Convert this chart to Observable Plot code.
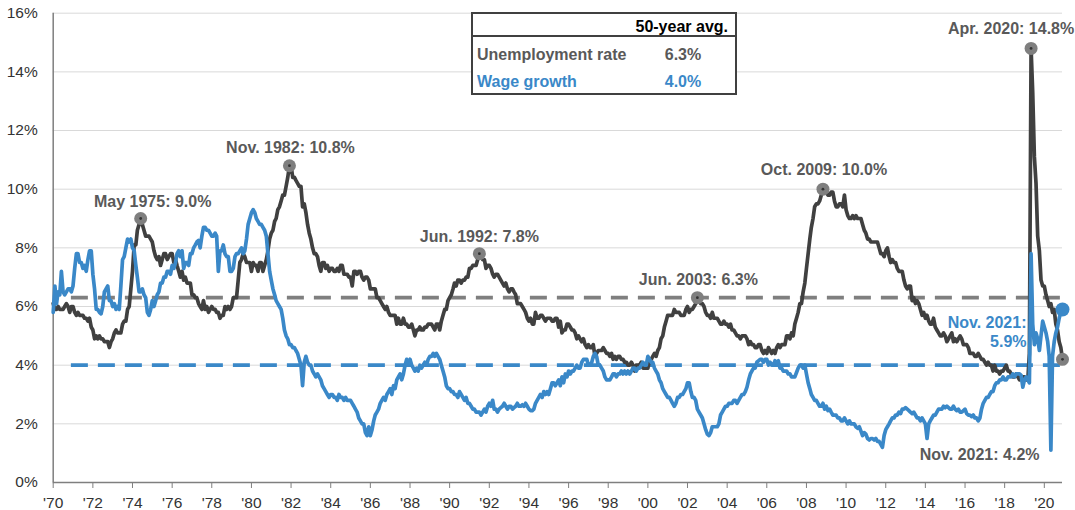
<!DOCTYPE html>
<html>
<head>
<meta charset="utf-8">
<script src="https://cdn.jsdelivr.net/npm/d3@7"></script>
<script src="https://cdn.jsdelivr.net/npm/@observablehq/plot@0.6"></script>
<style>
  html, body { margin: 0; padding: 0; background: #fff; }
  #wrap { position: relative; width: 1075px; height: 510px; font-family: "Liberation Sans", Arial, sans-serif; }
  #legend { position: absolute; left: 471px; top: 12px; width: 262px; height: 79px; border: 2px solid #404040; background: #fff; font-weight: bold; font-size: 16px; }
  #legend .t { position: absolute; line-height: 18px; white-space: nowrap; }
  #legend .sep { position: absolute; left: 0; right: 0; top: 21px; height: 2px; background: #404040; }
</style>
</head>
<body>
<div id="wrap">
  <div id="chart"></div>
  <div id="legend"></div>
</div>
<script>
// ---- Data ----
// Monthly series, first value = Dec 1970, last value = Nov 2021
const firstMonth = { year: 1970, month: 11 };

const unemployment = [
  6.1,
  5.9,5.9,6.0,5.9,5.9,5.9,6.0,6.1,6.0,5.8,6.0,6.0,        // 1971
  5.8,5.7,5.8,5.7,5.7,5.7,5.6,5.6,5.5,5.6,5.3,5.2,        // 1972
  4.9,5.0,4.9,5.0,4.9,4.9,4.8,4.8,4.8,4.6,4.8,4.9,        // 1973
  5.1,5.2,5.1,5.1,5.1,5.4,5.5,5.5,5.9,6.0,6.6,7.2,        // 1974
  8.1,8.1,8.6,8.8,9.0,8.8,8.6,8.4,8.4,8.4,8.3,8.2,        // 1975
  7.9,7.7,7.6,7.7,7.4,7.6,7.8,7.8,7.6,7.7,7.8,7.8,        // 1976
  7.5,7.6,7.4,7.2,7.0,7.2,6.9,7.0,6.8,6.8,6.8,6.4,        // 1977
  6.4,6.3,6.3,6.1,6.0,5.9,6.2,5.9,6.0,5.8,5.9,6.0,        // 1978
  5.9,5.9,5.8,5.8,5.6,5.7,5.7,6.0,5.9,6.0,5.9,6.0,        // 1979
  6.3,6.3,6.3,6.9,7.5,7.6,7.8,7.7,7.5,7.5,7.5,7.2,        // 1980
  7.5,7.4,7.4,7.2,7.5,7.5,7.2,7.4,7.6,7.9,8.3,8.5,        // 1981
  8.6,8.9,9.0,9.3,9.4,9.6,9.8,9.8,10.1,10.4,10.8,10.8,    // 1982
  10.4,10.4,10.3,10.2,10.1,10.1,9.4,9.5,9.2,8.8,8.5,8.3,  // 1983
  8.0,7.8,7.8,7.7,7.4,7.2,7.5,7.5,7.3,7.4,7.2,7.3,        // 1984
  7.3,7.2,7.2,7.3,7.2,7.4,7.4,7.1,7.1,7.1,7.0,7.0,        // 1985
  6.7,7.2,7.2,7.1,7.2,7.2,7.0,6.9,7.0,7.0,6.9,6.6,        // 1986
  6.6,6.6,6.6,6.3,6.3,6.2,6.1,6.0,5.9,6.0,5.8,5.7,        // 1987
  5.7,5.7,5.7,5.4,5.6,5.4,5.4,5.6,5.4,5.4,5.3,5.3,        // 1988
  5.4,5.2,5.0,5.2,5.2,5.3,5.2,5.2,5.3,5.3,5.4,5.4,        // 1989
  5.4,5.3,5.2,5.4,5.4,5.2,5.5,5.7,5.9,5.9,6.2,6.3,        // 1990
  6.4,6.6,6.8,6.7,6.9,6.9,6.8,6.9,6.9,7.0,7.0,7.3,        // 1991
  7.3,7.4,7.4,7.4,7.6,7.8,7.7,7.6,7.6,7.3,7.4,7.4,        // 1992
  7.3,7.1,7.0,7.1,7.1,7.0,6.9,6.8,6.7,6.8,6.6,6.5,        // 1993
  6.6,6.6,6.5,6.4,6.1,6.1,6.1,6.0,5.9,5.8,5.6,5.5,        // 1994
  5.6,5.4,5.4,5.8,5.6,5.6,5.7,5.7,5.6,5.5,5.6,5.6,        // 1995
  5.6,5.5,5.5,5.6,5.6,5.3,5.5,5.1,5.2,5.2,5.4,5.4,        // 1996
  5.3,5.2,5.2,5.1,4.9,5.0,4.9,4.8,4.9,4.7,4.6,4.7,        // 1997
  4.6,4.6,4.7,4.3,4.4,4.5,4.5,4.5,4.6,4.5,4.4,4.4,        // 1998
  4.3,4.4,4.2,4.3,4.2,4.3,4.3,4.2,4.2,4.1,4.1,4.0,        // 1999
  4.0,4.1,4.0,3.8,4.0,4.0,4.0,4.1,3.9,3.9,3.9,3.9,        // 2000
  4.2,4.2,4.3,4.4,4.3,4.5,4.6,4.9,5.0,5.3,5.5,5.7,        // 2001
  5.7,5.7,5.7,5.9,5.8,5.8,5.8,5.7,5.7,5.7,5.9,6.0,        // 2002
  5.8,5.9,5.9,6.0,6.1,6.3,6.2,6.1,6.1,6.0,5.8,5.7,        // 2003
  5.7,5.6,5.8,5.6,5.6,5.6,5.5,5.4,5.4,5.5,5.4,5.4,        // 2004
  5.3,5.4,5.2,5.2,5.1,5.0,5.0,4.9,5.0,5.0,5.0,4.9,        // 2005
  4.7,4.8,4.7,4.7,4.6,4.6,4.7,4.7,4.5,4.4,4.5,4.4,        // 2006
  4.6,4.5,4.4,4.5,4.4,4.6,4.7,4.6,4.7,4.7,4.7,5.0,        // 2007
  5.0,4.9,5.1,5.0,5.4,5.6,5.8,6.1,6.1,6.5,6.8,7.3,        // 2008
  7.8,8.3,8.7,9.0,9.4,9.5,9.5,9.6,9.8,10.0,9.9,9.9,       // 2009
  9.8,9.8,9.9,9.9,9.6,9.4,9.4,9.5,9.5,9.4,9.8,9.3,        // 2010
  9.1,9.0,9.0,9.1,9.0,9.1,9.0,9.0,9.0,8.8,8.6,8.5,        // 2011
  8.3,8.3,8.2,8.2,8.2,8.2,8.2,8.0,7.8,7.8,7.7,7.9,        // 2012
  8.0,7.7,7.5,7.6,7.5,7.5,7.3,7.2,7.2,7.2,6.9,6.7,        // 2013
  6.6,6.7,6.7,6.2,6.3,6.1,6.2,6.1,5.9,5.7,5.8,5.6,        // 2014
  5.7,5.5,5.4,5.4,5.6,5.3,5.2,5.1,5.0,5.0,5.1,5.0,        // 2015
  4.8,4.9,5.0,5.1,4.8,4.9,4.8,4.9,5.0,4.9,4.7,4.7,        // 2016
  4.7,4.6,4.4,4.4,4.4,4.3,4.3,4.4,4.3,4.2,4.2,4.1,        // 2017
  4.0,4.1,4.0,4.0,3.8,4.0,3.8,3.8,3.7,3.8,3.8,3.9,        // 2018
  4.0,3.8,3.8,3.7,3.6,3.6,3.7,3.6,3.5,3.6,3.6,3.6,        // 2019
  3.5,3.5,4.4,14.8,13.3,11.1,10.2,8.4,7.9,6.9,6.7,6.7,    // 2020
  6.4,6.2,6.0,6.1,5.8,5.9,5.4,5.2,4.8,4.6,4.2             // 2021
];

const wageGrowth = [
  5.8,
  6.7,6.1,6.5,6.4,7.2,6.5,6.4,6.5,6.6,6.6,6.5,6.7,        // 1971
  7.3,7.8,7.8,7.5,7.5,7.3,7.4,7.2,7.6,7.9,7.9,7.1,        // 1972
  6.6,5.9,5.9,5.8,5.75,6.0,6.5,6.6,6.7,6.2,6.2,6.0,       // 1973
  6.1,5.9,6.0,5.9,6.7,7.6,7.7,8.0,8.3,8.2,8.3,8.0,        // 1974
  7.9,7.4,7.0,6.5,6.5,6.6,6.4,6.3,5.8,5.7,5.9,6.2,        // 1975
  6.0,6.2,6.4,6.5,6.8,6.8,7.0,7.0,7.2,7.2,7.1,7.4,        // 1976
  7.3,7.5,7.8,7.9,7.7,7.9,7.3,7.5,7.5,7.4,7.8,7.8,        // 1977
  8.0,8.1,8.2,8.25,8.0,8.4,8.7,8.7,8.6,8.6,8.5,8.4,       // 1978
  8.4,8.5,8.4,7.2,7.9,7.9,8.1,7.8,7.7,7.7,7.2,7.2,        // 1979
  7.3,7.7,7.8,7.8,7.9,8.0,7.8,7.9,8.3,8.8,9.0,9.2,        // 1980
  9.3,9.2,9.0,8.9,8.8,8.8,8.7,8.6,8.4,7.8,7.2,6.9,        // 1981
  6.6,6.4,6.2,6.1,6.0,5.9,5.6,5.2,5.0,4.9,4.7,4.7,        // 1982
  4.6,4.6,4.5,4.4,4.2,4.0,3.3,4.1,4.3,4.1,4.0,4.0,        // 1983
  3.8,3.7,3.6,3.7,3.6,3.5,3.3,3.2,3.1,3.0,2.9,3.0,        // 1984
  3.0,2.9,2.9,2.8,3.0,2.9,2.9,2.8,2.9,2.8,2.8,2.8,        // 1985
  2.7,2.6,2.5,2.4,2.2,2.1,2.0,2.0,1.7,1.6,1.9,1.6,        // 1986
  1.8,2.1,2.3,2.4,2.5,2.7,2.8,2.9,2.8,3.0,3.1,3.2,        // 1987
  3.0,3.3,3.2,3.5,3.6,3.7,3.5,3.7,4.0,4.2,4.1,4.2,        // 1988
  4.0,3.9,3.8,3.9,3.8,4.0,3.9,4.0,4.1,4.0,4.2,4.3,        // 1989
  4.3,4.4,4.3,4.4,4.3,4.2,4.0,3.8,3.6,3.3,3.2,3.2,        // 1990
  3.1,3.1,3.0,3.0,2.9,3.1,3.0,2.9,2.8,2.9,2.7,2.7,        // 1991
  2.6,2.5,2.5,2.4,2.4,2.4,2.3,2.4,2.5,2.4,2.6,2.7,        // 1992
  2.6,2.8,2.5,2.5,2.4,2.5,2.55,2.6,2.7,2.6,2.5,2.6,       // 1993
  2.6,2.5,2.55,2.6,2.7,2.6,2.6,2.65,2.6,2.7,2.6,2.5,      // 1994
  2.45,2.45,2.5,2.7,2.8,2.9,3.0,2.9,3.1,3.0,3.1,3.0,      // 1995
  3.2,3.4,3.4,3.3,3.4,3.5,3.3,3.6,3.4,3.7,3.6,3.8,        // 1996
  3.7,3.8,3.8,3.9,4.0,3.9,3.9,4.1,4.2,4.2,4.2,4.0,        // 1997
  4.0,4.1,4.3,4.4,4.3,4.0,4.0,3.9,3.8,3.6,3.5,3.5,        // 1998
  3.5,3.6,3.7,3.7,3.6,3.7,3.7,3.8,3.7,3.8,3.7,3.8,        // 1999
  3.7,3.8,3.9,3.9,3.8,3.9,3.9,4.0,4.1,4.0,4.0,4.3,        // 2000
  4.2,4.1,4.1,3.9,3.8,3.7,3.5,3.4,3.2,3.1,3.0,2.9,        // 2001
  2.9,2.8,2.7,2.6,2.7,2.9,2.9,3.0,3.0,3.1,3.2,3.4,        // 2002
  3.4,3.1,2.9,2.9,2.8,2.5,2.4,2.3,2.2,2.0,1.8,1.65,       // 2003
  1.6,1.7,1.9,1.9,1.9,1.9,2.0,2.3,2.4,2.5,2.6,2.6,        // 2004
  2.7,2.7,2.7,2.8,2.8,2.7,2.8,2.9,3.0,3.0,3.1,3.25,       // 2005
  3.5,3.7,3.8,3.9,3.9,4.1,4.15,4.2,4.2,4.1,4.2,4.2,       // 2006
  4.0,4.1,4.0,4.0,4.15,4.1,4.15,3.9,3.9,3.8,3.8,3.8,      // 2007
  3.7,3.7,3.6,3.6,3.6,3.75,3.9,4.0,4.0,3.9,4.0,3.7,       // 2008
  3.4,3.2,3.0,2.9,2.8,2.8,2.7,2.6,2.6,2.7,2.5,2.6,        // 2009
  2.45,2.5,2.4,2.3,2.3,2.3,2.2,2.2,2.1,2.1,2.2,2.1,       // 2010
  2.0,2.1,2.0,2.0,2.0,1.9,1.85,1.9,1.75,1.6,1.7,1.65,     // 2011
  1.5,1.45,1.5,1.5,1.45,1.5,1.4,1.4,1.3,1.2,1.6,1.8,      // 2012
  1.9,2.0,2.1,2.2,2.2,2.3,2.3,2.4,2.35,2.5,2.5,2.55,      // 2013
  2.5,2.45,2.4,2.35,2.4,2.3,2.2,2.2,2.1,2.2,2.1,2.0,      // 2014
  1.5,2.0,2.1,2.2,2.3,2.3,2.4,2.5,2.5,2.5,2.6,2.55,       // 2015
  2.6,2.55,2.5,2.5,2.6,2.5,2.45,2.5,2.4,2.4,2.45,2.5,     // 2016
  2.35,2.3,2.3,2.25,2.3,2.2,2.2,2.1,2.2,2.5,2.7,2.8,      // 2017
  2.9,2.9,3.0,3.1,3.1,3.3,3.4,3.4,3.5,3.5,3.6,3.5,        // 2018
  3.5,3.6,3.6,3.6,3.7,3.6,3.7,3.7,3.7,3.65,3.25,3.5,      // 2019
  3.6,3.5,3.4,7.8,5.4,4.7,5.1,4.9,4.5,5.0,5.5,5.3,        // 2020
  5.1,4.8,4.3,1.1,4.3,4.8,5.1,5.3,5.6,5.8,5.9             // 2021
];

// 50-year averages (legend + dashed reference lines)
const seriesNames = ["Unemployment rate", "Wage growth"];
const fiftyYearAvg = [6.3, 4.0];

// Axis ticks
const yTicks = [0, 2, 4, 6, 8, 10, 12, 14, 16];
const tickYears = [1970,1972,1974,1976,1978,1980,1982,1984,1986,1988,1990,1992,1994,1996,1998,2000,2002,2004,2006,2008,2010,2012,2014,2016,2018,2020];

// Annotated points
const unempCallouts = [
  { year: 1975, month: 4,  value: 9.0,  label: "May 1975: 9.0%" },
  { year: 1982, month: 10, value: 10.8, label: "Nov. 1982: 10.8%" },
  { year: 1992, month: 5,  value: 7.8,  label: "Jun. 1992: 7.8%" },
  { year: 2003, month: 5,  value: 6.3,  label: "Jun. 2003: 6.3%" },
  { year: 2009, month: 9,  value: 10.0, label: "Oct. 2009: 10.0%" },
  { year: 2020, month: 3,  value: 14.8, label: "Apr. 2020: 14.8%" },
  { year: 2021, month: 10, value: 4.2,  label: "Nov. 2021: 4.2%" }
];
const wageCallouts = [
  { year: 2021, month: 10, value: 5.9, label: "Nov. 2021:\n5.9%" }
];

// ---- Styling (kept separate from data) ----
const GRAY_LINE = "#404040", GRAY_MID = "#7f7f7f", BLUE = "#3a88c8", LABEL_GRAY = "#595959";
const labelOffsets = {
  "May 1975: 9.0%":   { dx: 12, dy: -17, anchor: "middle" },
  "Nov. 1982: 10.8%": { dx: 1,  dy: -19, anchor: "middle" },
  "Jun. 1992: 7.8%":  { dx: 0,  dy: -18, anchor: "middle" },
  "Jun. 2003: 6.3%":  { dx: 1,  dy: -19, anchor: "middle" },
  "Oct. 2009: 10.0%": { dx: 1,  dy: -20, anchor: "middle" },
  "Apr. 2020: 14.8%": { dx: -20, dy: -20, anchor: "middle" },
  "Nov. 2021: 4.2%":  { dx: -23, dy: 95, anchor: "end" },
  "Nov. 2021:\n5.9%": { dx: -36, dy: 22, anchor: "end" }
};

// ---- Build tables ----
const monthDate = (i) => new Date(firstMonth.year, firstMonth.month + i, 1);
const rows = unemployment.map((u, i) => ({ date: monthDate(i), unemployment: u, wage: wageGrowth[i] }));
const startDate = rows[0].date, endDate = rows[rows.length - 1].date;
const xTicks = tickYears.map(y => new Date(y, 11, 1));
const toPoint = d => ({ date: new Date(d.year, d.month, 1), value: d.value, label: d.label });
const uPts = unempCallouts.map(toPoint);
const wPts = wageCallouts.map(toPoint);
const avgStart = new Date(1971, 10, 1);
const avgRows = [
  { y: fiftyYearAvg[0], x1: avgStart, x2: endDate, color: GRAY_MID },
  { y: fiftyYearAvg[1], x1: avgStart, x2: endDate, color: BLUE }
];

const textMarks = [...uPts.map(p => ({ p, fill: LABEL_GRAY })), ...wPts.map(p => ({ p, fill: BLUE }))].map(({ p, fill }) => {
  const o = labelOffsets[p.label];
  return Plot.text([p], {
    x: "date", y: "value", text: "label",
    dx: o.dx, dy: o.dy, textAnchor: o.anchor,
    fill, fontSize: 16, fontWeight: "bold", lineHeight: 1.15
  });
});

const chart = Plot.plot({
  width: 1075,
  height: 510,
  marginLeft: 52.7,
  marginRight: 13,
  marginTop: 12.7,
  marginBottom: 28,
  style: { fontFamily: "'Liberation Sans', Arial, sans-serif", background: "#fff", overflow: "visible" },
  x: { type: "time", domain: [startDate, endDate] },
  y: { domain: [0, 16] },
  marks: [
    Plot.gridY(yTicks.filter(v => v > 0), { stroke: "#d9d9d9", strokeOpacity: 1, strokeWidth: 1 }),
    Plot.ruleY(avgRows, { y: "y", x1: "x1", x2: "x2", stroke: "color", strokeWidth: 3.8, strokeDasharray: "17,10" }),
    Plot.ruleX([startDate], { y1: 0, y2: 16, stroke: GRAY_MID, strokeWidth: 1.5 }),
    Plot.ruleY([0], { stroke: GRAY_MID, strokeWidth: 1.5 }),
    Plot.axisY(yTicks, { tickSize: 0, tickPadding: 15.5, tickFormat: d => d + "%", fontSize: 15.5, fill: "#333", label: null }),
    Plot.axisX(xTicks, { tickSize: 6, tickPadding: 8.5, tickFormat: d => "'" + String(d.getFullYear()).slice(2), fontSize: 15.5, fill: "#333", stroke: GRAY_MID, label: null }),
    Plot.line(rows, { x: "date", y: "unemployment", stroke: GRAY_LINE, strokeWidth: 3.7, strokeLinejoin: "round" }),
    Plot.line(rows, { x: "date", y: "wage", stroke: BLUE, strokeWidth: 3.7, strokeLinejoin: "round" }),
    Plot.dot(uPts, { x: "date", y: "value", r: 6.5, fill: GRAY_MID }),
    Plot.dot(uPts, { x: "date", y: "value", r: 1.4, fill: "#333" }),
    Plot.dot(wPts, { x: "date", y: "value", r: 7, fill: BLUE }),
    ...textMarks
  ]
});
document.getElementById("chart").appendChild(chart);

// ---- Legend table (HTML overlay) ----
const legend = document.getElementById("legend");
const colors = [LABEL_GRAY, BLUE];
let html = `<div class="t" style="right:7px;top:4px;color:#000">50-year avg.</div><div class="sep"></div>`;
seriesNames.forEach((name, i) => {
  const top = i === 0 ? 32 : 58.5;
  html += `<div class="t" style="left:4px;top:${top}px;color:${colors[i]}">${name}</div>`;
  html += `<div class="t" style="left:180px;width:60px;text-align:center;top:${top}px;color:${colors[i]}">${fiftyYearAvg[i].toFixed(1)}%</div>`;
});
legend.innerHTML = html;
</script>
</body>
</html>
